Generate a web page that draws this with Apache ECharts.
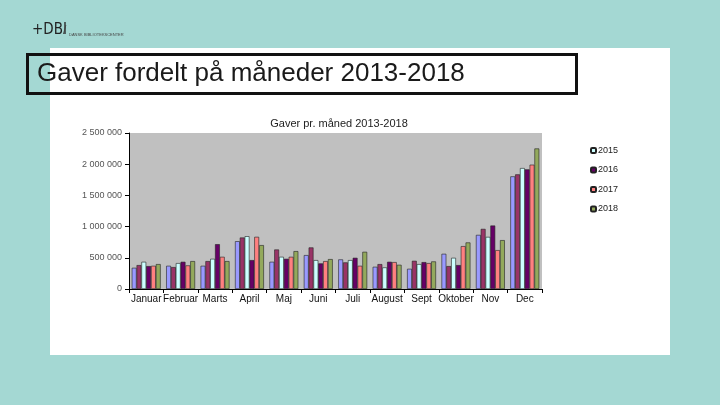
<!DOCTYPE html>
<html><head><meta charset="utf-8">
<script src="https://cdn.jsdelivr.net/npm/echarts@6/dist/echarts.min.js"></script>
<style>html,body{margin:0;padding:0;background:#a4d8d3;}#c{width:720px;height:405px;}</style>
</head><body><div id="c"></div>
<script>
var months = ['Januar','Februar','Marts','April','Maj','Juni','Juli','August','Sept','Oktober','Nov','Dec'];
var seriesNames = ['2013','2014','2015','2016','2017','2018'];
var y2013 = [340000,372000,372000,766000,436000,543000,474000,356000,324000,564000,867000,1805000];
var y2014 = [383000,351000,447000,825000,633000,666000,426000,399000,452000,367000,963000,1837000];
var y2015 = [436000,415000,484000,846000,516000,463000,463000,346000,399000,500000,835000,1938000];
var y2016 = [367000,436000,718000,463000,484000,410000,500000,436000,431000,383000,1017000,1917000];
var y2017 = [372000,378000,516000,836000,516000,447000,372000,431000,415000,687000,623000,1992000];
var y2018 = [399000,447000,447000,703000,607000,479000,596000,388000,442000,746000,783000,2252000];
var legendNames = ['2015','2016','2017','2018'];
var colors = ['#9999ff','#993366','#ccffff','#660066','#ff8080','#93a95c'];
var allData = [y2013,y2014,y2015,y2016,y2017,y2018];

var chart = echarts.init(document.getElementById('c'));
var series = seriesNames.map(function(n,i){
  return {
    name:n, type:'bar', data:allData[i], barGap:'0%', barCategoryGap:'16%',
    itemStyle:{color:colors[i], borderColor:'#222', borderWidth:0.6},
    emphasis:{disabled:true}
  };
});
chart.setOption({
  backgroundColor:'#a4d8d3',
  animation:false,
  title:{text:'Gaver pr. måned 2013-2018', left:334, top:113, textAlign:'center',
    textStyle:{fontFamily:'Liberation Sans', fontSize:11, fontWeight:'normal', color:'#222'}},
  graphic:[
    {type:'rect', z:-10, shape:{x:50,y:48,width:620,height:307}, style:{fill:'#ffffff'}},
    {type:'rect', z:10, shape:{x:27.5,y:54.5,width:549,height:39}, style:{fill:'none', stroke:'#111', lineWidth:3}},
    {type:'text', z:11, left:37, top:61, style:{text:'Gaver fordelt på måneder 2013-2018', font:'26px "Liberation Sans"', fill:'#1a1a1a'}},
    {type:'text', z:11, left:32, top:23, style:{text:'+DBI', font:'15px "DejaVu Sans Condensed"', fill:'#222'}},
    {type:'text', z:11, left:63, top:25, style:{text:'/', font:'12px "Liberation Sans"', fill:'#444'}},
    {type:'text', z:11, left:69, top:33, style:{text:'DANSK BIBLIOTEKSCENTER', font:'4px "Liberation Sans"', fill:'#444'}}
  ],
  legend:{data:legendNames, orient:'vertical', left:585, top:141, itemWidth:5, itemHeight:5, itemGap:10.5,
    textStyle:{fontFamily:'Liberation Sans', fontSize:9, color:'#222', padding:[0,0,0,-3]}},
  grid:{left:129, right:178, top:133, bottom:116, show:true, backgroundColor:'#c0c0c0', borderWidth:0},
  xAxis:{type:'category', data:months,
    axisLine:{lineStyle:{color:'#000', width:1}},
    axisTick:{show:true, length:4, lineStyle:{color:'#000'}},
    axisLabel:{fontFamily:'Liberation Sans', fontSize:10, color:'#111', margin:5, interval:0}},
  yAxis:{type:'value', min:0, max:2500000, interval:500000,
    axisLine:{show:true, lineStyle:{color:'#000', width:1}},
    axisTick:{show:true, length:4, lineStyle:{color:'#000'}},
    splitLine:{show:false},
    axisLabel:{fontFamily:'Liberation Sans', fontSize:9, color:'#555', margin:7,
      formatter:function(v){return String(v).replace(/\B(?=(\d{3})+(?!\d))/g,' ');}}},
  series:series
});
</script></body></html>
